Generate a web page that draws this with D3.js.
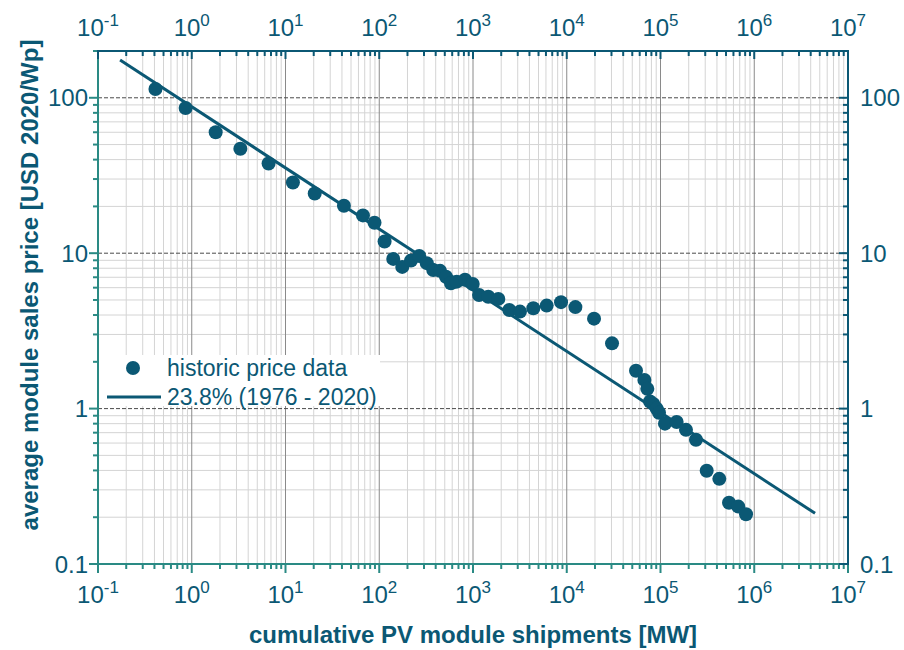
<!DOCTYPE html>
<html>
<head>
<meta charset="utf-8">
<script src="https://cdn.jsdelivr.net/npm/d3@7"></script>
<style>
  body { margin: 0; background: #fff; }
  svg { font-family: Arial, "Liberation Sans", sans-serif; }
</style>
</head>
<body>
<svg id="chart" width="904" height="650"></svg>
<script>
// historic module price data (cumulative shipments in MW, price in USD 2020/Wp)
var shipments = [0.41, 0.86, 1.8, 3.3, 6.6, 12, 20.5, 42, 67, 89, 114, 141, 176, 218, 267, 321, 377, 445, 515, 582,
                 670, 822, 993, 1160, 1456, 1862, 2440, 3170, 4400, 6110, 8690, 12360, 19540, 30400, 54800, 67300,
                 72400, 77300, 83800, 91000, 96400, 111600, 148700, 187000, 239000, 311000, 424000, 538000, 676000, 817000];
var prices = [114, 86, 60, 47, 37.8, 28.5, 24.2, 20.2, 17.5, 15.7, 11.9, 9.19, 8.16, 8.96, 9.6, 8.63, 7.8, 7.7, 7.06, 6.41,
              6.56, 6.74, 6.34, 5.38, 5.25, 5.08, 4.31, 4.21, 4.42, 4.6, 4.84, 4.5, 3.79, 2.63, 1.75, 1.53,
              1.34, 1.11, 1.07, 1.0, 0.94, 0.8, 0.82, 0.73, 0.63, 0.398, 0.353, 0.248, 0.234, 0.209];

// learning curve fit 23.8% (1976 - 2020), end points
var fitX = [0.172, 4.45e6];
var fitY = [175, 0.212];

var xDecades = [-1, 0, 1, 2, 3, 4, 5, 6, 7];
var yTicks = [0.1, 1, 10, 100];
var yTickLabels = ["0.1", "1", "10", "100"];
var legendLabels = ["historic price data", "23.8% (1976 - 2020)"];

const DARK = "#0b5874";
const TEAL = "#2a8a84";
const FS = 24;

var svg = d3.select("#chart");
var x = d3.scaleLog().domain([0.1, 1e7]).range([98, 848]);
var y = d3.scaleLog().domain([0.1, 200]).range([564, 51]);

var x0 = x.range()[0], x1 = x.range()[1];
var y0 = y.range()[0], y1 = y.range()[1];

// minor / major tick values
var xMinor = [], yMinor = [];
xDecades.slice(0, -1).forEach(function(d) {
    for (var m = 2; m <= 9; m++) xMinor.push(m * Math.pow(10, d));
});
[-1, 0, 1, 2].forEach(function(d) {
    for (var m = 2; m <= 9; m++) {
        var v = m * Math.pow(10, d);
        if (v <= 200) yMinor.push(v);
    }
});
var xMajor = xDecades.map(d => Math.pow(10, d));

// grid
var grid = svg.append("g");
grid.selectAll(".vminor").data(xMinor).enter().append("line")
    .attr("x1", d => x(d)).attr("x2", d => x(d))
    .attr("y1", y0).attr("y2", y1)
    .attr("stroke", "#d4d4d4").attr("stroke-width", 1);
grid.selectAll(".hminor").data(yMinor).enter().append("line")
    .attr("y1", d => y(d)).attr("y2", d => y(d))
    .attr("x1", x0).attr("x2", x1)
    .attr("stroke", "#d4d4d4").attr("stroke-width", 1);
grid.selectAll(".vmajor").data(xMajor.slice(1, -1)).enter().append("line")
    .attr("x1", d => x(d)).attr("x2", d => x(d))
    .attr("y1", y0).attr("y2", y1)
    .attr("stroke", "#8a8a8a").attr("stroke-width", 1);
grid.selectAll(".hmajor").data(yTicks.slice(1)).enter().append("line")
    .attr("y1", d => y(d)).attr("y2", d => y(d))
    .attr("x1", x0).attr("x2", x1)
    .attr("stroke", "#4a4a4a").attr("stroke-width", 1)
    .attr("stroke-dasharray", "4,2");

// legend background
svg.append("rect")
    .attr("x", x0 + 1).attr("y", 355)
    .attr("width", 281).attr("height", 51)
    .attr("fill", "#fff");

// fit line
svg.append("line")
    .attr("x1", x(fitX[0])).attr("y1", y(fitY[0]))
    .attr("x2", x(fitX[1])).attr("y2", y(fitY[1]))
    .attr("stroke", DARK).attr("stroke-width", 3);

// data points
svg.append("g").selectAll("circle").data(shipments).enter().append("circle")
    .attr("cx", d => x(d))
    .attr("cy", (d, i) => y(prices[i]))
    .attr("r", 7)
    .attr("fill", DARK);

// axes
function tickSet(vals, major) { return vals.map(v => ({v: v, major: major})); }
var xTickAll = tickSet(xMajor, true).concat(tickSet(xMinor, false));
var yTickAll = tickSet(yTicks, true).concat(tickSet(yMinor, false));

// bottom (teal, outward)
var gb = svg.append("g");
gb.selectAll("line").data(xTickAll).enter().append("line")
    .attr("x1", d => x(d.v)).attr("x2", d => x(d.v))
    .attr("y1", y0).attr("y2", d => y0 + (d.major ? 9 : 5))
    .attr("stroke", TEAL).attr("stroke-width", 2);
gb.append("line").attr("x1", x0 - 1).attr("x2", x1 + 1).attr("y1", y0).attr("y2", y0)
    .attr("stroke", TEAL).attr("stroke-width", 2);

// left (teal, outward)
var gl = svg.append("g");
gl.selectAll("line").data(yTickAll).enter().append("line")
    .attr("y1", d => y(d.v)).attr("y2", d => y(d.v))
    .attr("x1", x0 + 1).attr("x2", d => x0 - (d.major ? 9 : 5))
    .attr("stroke", TEAL).attr("stroke-width", 2);
gl.append("line").attr("x1", x0).attr("x2", x0).attr("y1", y0 + 1).attr("y2", y1 - 1)
    .attr("stroke", TEAL).attr("stroke-width", 2);

// top (dark, inward)
var gt = svg.append("g");
gt.selectAll("line").data(xTickAll).enter().append("line")
    .attr("x1", d => x(d.v)).attr("x2", d => x(d.v))
    .attr("y1", y1).attr("y2", d => y1 + (d.major ? 8 : 5))
    .attr("stroke", DARK).attr("stroke-width", 2);
gt.append("line").attr("x1", x0 - 1).attr("x2", x1 + 1).attr("y1", y1).attr("y2", y1)
    .attr("stroke", DARK).attr("stroke-width", 2);

// right (dark, inward)
var gr = svg.append("g");
gr.selectAll("line").data(yTickAll).enter().append("line")
    .attr("y1", d => y(d.v)).attr("y2", d => y(d.v))
    .attr("x1", x1).attr("x2", d => x1 - (d.major ? 9 : 5))
    .attr("stroke", DARK).attr("stroke-width", 2);
gr.append("line").attr("x1", x1).attr("x2", x1).attr("y1", y0 + 1).attr("y2", y1 - 1)
    .attr("stroke", DARK).attr("stroke-width", 2);

// x tick labels (top and bottom), 10^n
function powLabel(g, d, ypos) {
    var t = g.append("text")
        .attr("x", x(Math.pow(10, d)))
        .attr("y", ypos)
        .attr("text-anchor", "middle")
        .attr("fill", DARK)
        .attr("font-size", FS);
    t.append("tspan").text("10");
    t.append("tspan").attr("dy", -10).attr("font-size", 17).text(String(d));
}
var labels = svg.append("g");
xDecades.forEach(function(d) {
    powLabel(labels, d, 36);
    powLabel(labels, d, 603);
});

// y tick labels (left and right)
yTicks.forEach(function(v, i) {
    labels.append("text")
        .attr("x", 88).attr("y", y(v)).attr("dy", "0.36em")
        .attr("text-anchor", "end")
        .attr("fill", DARK).attr("font-size", FS)
        .text(yTickLabels[i]);
    labels.append("text")
        .attr("x", 860).attr("y", y(v)).attr("dy", "0.36em")
        .attr("text-anchor", "start")
        .attr("fill", DARK).attr("font-size", FS)
        .text(yTickLabels[i]);
});

// axis titles
svg.append("text")
    .attr("x", (x0 + x1) / 2).attr("y", 643)
    .attr("text-anchor", "middle")
    .attr("font-weight", "bold").attr("font-size", 24)
    .attr("fill", DARK)
    .text("cumulative PV module shipments [MW]");
svg.append("text")
    .attr("transform", "translate(38,285) rotate(-90)")
    .attr("text-anchor", "middle")
    .attr("font-weight", "bold").attr("font-size", 24)
    .attr("fill", DARK)
    .text("average module sales price [USD 2020/Wp]");

// legend
var lg = svg.append("g");
lg.append("circle").attr("cx", 133).attr("cy", 368).attr("r", 7).attr("fill", DARK);
lg.append("line").attr("x1", 107).attr("x2", 161).attr("y1", 397).attr("y2", 397)
    .attr("stroke", DARK).attr("stroke-width", 3);
legendLabels.forEach(function(s, i) {
    lg.append("text")
        .attr("x", 167).attr("y", 376 + i * 29)
        .attr("fill", DARK).attr("font-size", 23)
        .text(s);
});
</script>
</body>
</html>
